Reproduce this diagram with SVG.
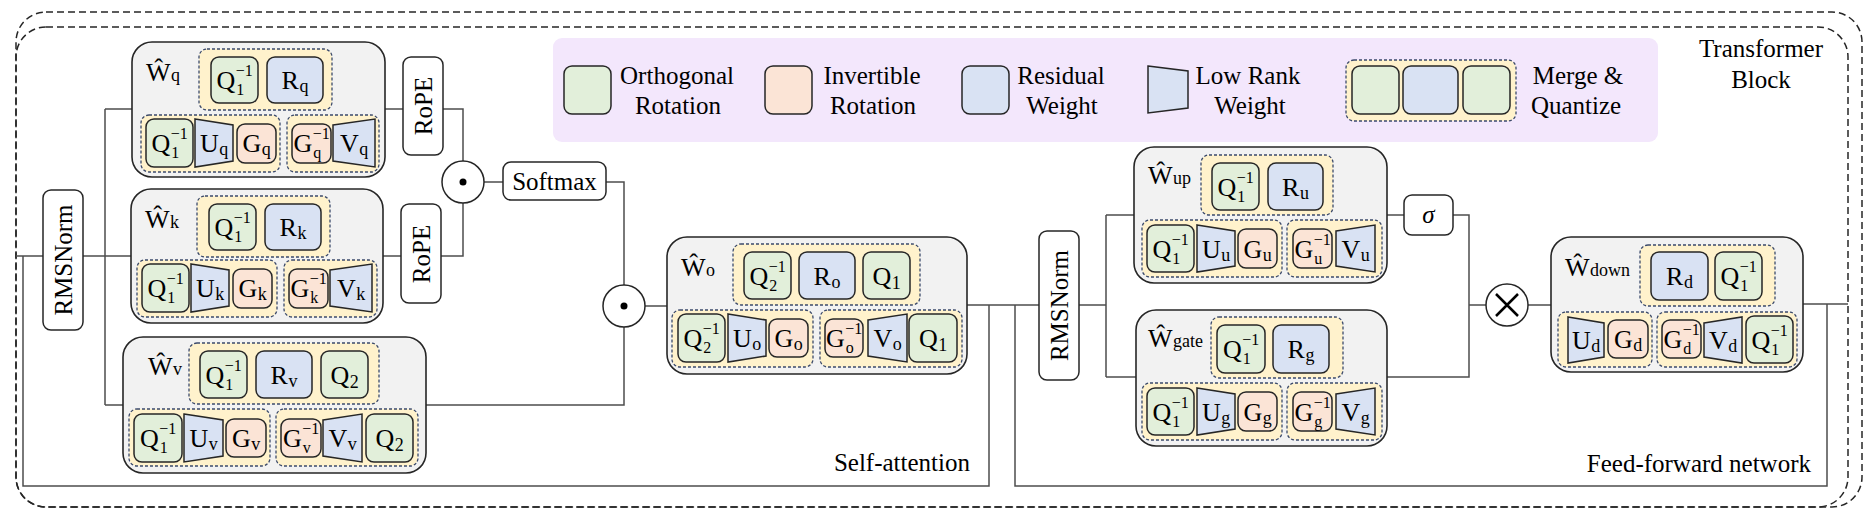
<svg xmlns="http://www.w3.org/2000/svg" width="1874" height="519" viewBox="0 0 1874 519">
<style>
.w{fill:#f2f2f2;stroke:#262626;stroke-width:1.6}
.y{fill:#fff2cc;stroke:#3b4a6b;stroke-width:1.3;stroke-dasharray:3 2}
.g{fill:#e2efda;stroke:#262626;stroke-width:1.5}
.o{fill:#fbe4d6;stroke:#262626;stroke-width:1.5}
.b{fill:#d9e2f3;stroke:#262626;stroke-width:1.5}
.op{fill:#fff;stroke:#262626;stroke-width:1.5}
.c{fill:none;stroke:#4d4d4d;stroke-width:1.5}
.f{fill:none;stroke:#262626;stroke-width:1.5;stroke-dasharray:7 4}
.m{font-family:"Liberation Serif","Times New Roman",serif;font-size:26px;fill:#000}
.s{font-size:18px}
.s2{font-size:16px}
.t{font-family:"Liberation Serif","Times New Roman",serif;font-size:25px;fill:#000;text-anchor:middle}
.r{font-family:"Liberation Serif","Times New Roman",serif;font-size:25px;fill:#000}
</style>
<g id="frame">
<rect class="f" x="16" y="12" width="1846" height="495" rx="30"/>
<rect class="f" x="16" y="27" width="1832" height="480" rx="30"/>
<text class="t" x="1761" y="57">Transformer</text>
<text class="t" x="1761" y="88">Block</text>
<text class="r" x="970" y="471" text-anchor="end">Self-attention</text>
<text class="r" x="1811" y="472" text-anchor="end">Feed-forward network</text>
</g>
<g id="legend">
<rect x="553" y="38" width="1105" height="104" rx="9" fill="#f3e7fc"/>
<rect class="g" x="564" y="66" width="47" height="48" rx="8"/>
<text class="t" x="677" y="84">Orthogonal</text><text class="t" x="678" y="114">Rotation</text>
<rect class="o" x="765" y="66" width="47" height="48" rx="8"/>
<text class="t" x="872" y="84">Invertible</text><text class="t" x="873" y="114">Rotation</text>
<rect class="b" x="962" y="66" width="47" height="48" rx="8"/>
<text class="t" x="1061" y="84">Residual</text><text class="t" x="1062" y="114">Weight</text>
<polygon class="b" points="1148,66 1188,71 1188,108 1148,113"/>
<text class="t" x="1248" y="84">Low Rank</text><text class="t" x="1250" y="114">Weight</text>
<rect class="y" x="1346" y="60" width="170" height="61" rx="8"/>
<rect class="g" x="1352" y="66" width="47" height="48" rx="8"/>
<rect class="b" x="1403" y="66" width="55" height="48" rx="8"/>
<rect class="g" x="1463" y="66" width="47" height="48" rx="8"/>
<text class="t" x="1578" y="84">Merge &amp;</text><text class="t" x="1576" y="114">Quantize</text>
</g>
<g id="connectors">
<path class="c" d="M16,256 H43 M23,256 V486 H989 V305 M83,256 H131 M105,109 V405 M105,109 H132 M105,405 H123"/>
<path class="c" d="M385,109 H403 M443,109 H463 V161 M382,256 H401 M441,256 H463 V203 M484,182 H503 M606,182 H624 V285 M426,405 H624 V327 M645,306 H667"/>
<path class="c" d="M967,305 H1039 M1015,305 V486 H1827 V304 M1079,305 H1106 M1106,215 V377 M1106,215 H1134 M1106,377 H1136"/>
<path class="c" d="M1387,215 H1404 M1453,215 H1469 V305 M1387,377 H1469 V305 M1469,305 H1486 M1528,305 H1551 M1803,304 H1848"/>
</g>
<g id="RMSNorm1"><rect class="op" x="43" y="190" width="40" height="140" rx="8"/><text class="t" transform="translate(72,260) rotate(-90)">RMSNorm</text></g>
<g id="RoPE1"><rect class="op" x="403" y="57" width="40" height="98" rx="8"/><text class="t" transform="translate(432,106) rotate(-90)">RoPE</text></g>
<g id="RoPE2"><rect class="op" x="401" y="204" width="40" height="99" rx="8"/><text class="t" transform="translate(430,254) rotate(-90)">RoPE</text></g>
<g id="dot1"><circle class="op" cx="463" cy="182" r="21"/><circle cx="463" cy="182" r="3.5" fill="#000"/></g>
<g id="Softmax"><rect class="op" x="503" y="162" width="103" height="38" rx="8"/><text class="t" x="554.5" y="190">Softmax</text></g>
<g id="dot2"><circle class="op" cx="624" cy="306" r="21"/><circle cx="624" cy="306" r="3.5" fill="#000"/></g>
<g id="RMSNorm2"><rect class="op" x="1039" y="231" width="40" height="149" rx="8"/><text class="t" transform="translate(1068,305.5) rotate(-90)">RMSNorm</text></g>
<g id="sigma"><rect class="op" x="1404" y="195" width="49" height="40" rx="8"/><text class="t" x="1428.5" y="223" font-style="italic">σ</text></g>
<g id="mul"><circle class="op" cx="1507" cy="305" r="21"/><path d="M1496,294 L1518,316 M1518,294 L1496,316" stroke="#000" stroke-width="2.5"/></g>

<g id="Wq" transform="translate(132,42)">
<rect class="w" width="253" height="135" rx="20"/>
<text class="m"><tspan x="14" y="39">Ŵ</tspan><tspan class="s" x="39" y="39">q</tspan></text>
<rect class="y" x="67" y="7" width="133" height="61" rx="8"/>
<rect class="g" x="79" y="15" width="47" height="46" rx="8"/>
<text class="m"><tspan x="84.4" y="47">Q</tspan><tspan class="s2" x="103.7" y="34">−1</tspan><tspan class="s2" x="104.2" y="53">1</tspan></text>
<rect class="b" x="135" y="15" width="56" height="46" rx="8"/>
<text class="m"><tspan x="149.6" y="47">R</tspan><tspan class="s" x="167.5" y="50">q</tspan></text>
<rect class="y" x="9" y="73" width="139" height="57" rx="8"/>
<rect class="g" x="14" y="77" width="47" height="48" rx="8"/>
<text class="m"><tspan x="19.4" y="110">Q</tspan><tspan class="s2" x="38.7" y="97">−1</tspan><tspan class="s2" x="39.2" y="116">1</tspan></text>
<polygon class="b" points="63,77 101,83 101,119 63,125"/>
<text class="m"><tspan x="67.9" y="110">U</tspan><tspan class="s" x="87.2" y="113">q</tspan></text>
<rect class="o" x="105" y="82" width="39" height="39" rx="8"/>
<text class="m"><tspan x="110.4" y="110">G</tspan><tspan class="s" x="129.7" y="113">q</tspan></text>
<rect class="y" x="155" y="73" width="92" height="57" rx="8"/>
<rect class="o" x="160" y="82" width="39" height="39" rx="8"/>
<text class="m"><tspan x="161.4" y="110">G</tspan><tspan class="s2" x="180.7" y="97">−1</tspan><tspan class="s2" x="181.2" y="116">q</tspan></text>
<polygon class="b" points="201,83 243,77 243,125 201,119"/>
<text class="m"><tspan x="207.9" y="110">V</tspan><tspan class="s" x="227.2" y="113">q</tspan></text>
</g>

<g id="Wk" transform="translate(131,189)">
<rect class="w" width="252" height="134" rx="20"/>
<text class="m"><tspan x="14" y="39">Ŵ</tspan><tspan class="s" x="39" y="39">k</tspan></text>
<rect class="y" x="66" y="7" width="133" height="61" rx="8"/>
<rect class="g" x="78" y="15" width="47" height="46" rx="8"/>
<text class="m"><tspan x="83.4" y="47">Q</tspan><tspan class="s2" x="102.7" y="34">−1</tspan><tspan class="s2" x="103.2" y="53">1</tspan></text>
<rect class="b" x="134" y="15" width="56" height="46" rx="8"/>
<text class="m"><tspan x="148.6" y="47">R</tspan><tspan class="s" x="166.5" y="50">k</tspan></text>
<rect class="y" x="6" y="71" width="140" height="57" rx="8"/>
<rect class="g" x="11" y="75" width="47" height="48" rx="8"/>
<text class="m"><tspan x="16.4" y="108">Q</tspan><tspan class="s2" x="35.7" y="95">−1</tspan><tspan class="s2" x="36.2" y="114">1</tspan></text>
<polygon class="b" points="60,75 98,81 98,117 60,123"/>
<text class="m"><tspan x="64.9" y="108">U</tspan><tspan class="s" x="84.2" y="111">k</tspan></text>
<rect class="o" x="102" y="80" width="39" height="39" rx="8"/>
<text class="m"><tspan x="107.4" y="108">G</tspan><tspan class="s" x="126.7" y="111">k</tspan></text>
<rect class="y" x="153" y="71" width="93" height="57" rx="8"/>
<rect class="o" x="158" y="80" width="39" height="39" rx="8"/>
<text class="m"><tspan x="159.4" y="108">G</tspan><tspan class="s2" x="178.7" y="95">−1</tspan><tspan class="s2" x="179.2" y="114">k</tspan></text>
<polygon class="b" points="199,81 241,75 241,123 199,117"/>
<text class="m"><tspan x="205.9" y="108">V</tspan><tspan class="s" x="225.2" y="111">k</tspan></text>
</g>

<g id="Wv" transform="translate(123,337)">
<rect class="w" width="303" height="136" rx="20"/>
<text class="m"><tspan x="25" y="38">Ŵ</tspan><tspan class="s" x="50" y="38">v</tspan></text>
<rect class="y" x="66" y="6" width="190" height="61" rx="8"/>
<rect class="g" x="77" y="14" width="47" height="47" rx="8"/>
<text class="m"><tspan x="82.4" y="46.5">Q</tspan><tspan class="s2" x="101.7" y="33.5">−1</tspan><tspan class="s2" x="102.2" y="52.5">1</tspan></text>
<rect class="b" x="133" y="14" width="56" height="47" rx="8"/>
<text class="m"><tspan x="147.6" y="46.5">R</tspan><tspan class="s" x="165.5" y="49.5">v</tspan></text>
<rect class="g" x="198" y="14" width="47" height="47" rx="8"/>
<text class="m"><tspan x="207.4" y="46.5">Q</tspan><tspan class="s" x="226.7" y="50.5">2</tspan></text>
<rect class="y" x="6" y="72" width="141" height="57" rx="8"/>
<rect class="g" x="11" y="77" width="48" height="48" rx="8"/>
<text class="m"><tspan x="16.9" y="110">Q</tspan><tspan class="s2" x="36.2" y="97">−1</tspan><tspan class="s2" x="36.7" y="116">1</tspan></text>
<polygon class="b" points="61,77 100,83 100,119 61,125"/>
<text class="m"><tspan x="66.4" y="110">U</tspan><tspan class="s" x="85.7" y="113">v</tspan></text>
<rect class="o" x="103" y="82" width="40" height="38" rx="8"/>
<text class="m"><tspan x="108.9" y="110">G</tspan><tspan class="s" x="128.2" y="113">v</tspan></text>
<rect class="y" x="153" y="72" width="142" height="57" rx="8"/>
<rect class="o" x="158" y="82" width="40" height="38" rx="8"/>
<text class="m"><tspan x="159.9" y="110">G</tspan><tspan class="s2" x="179.2" y="97">−1</tspan><tspan class="s2" x="179.7" y="116">v</tspan></text>
<polygon class="b" points="200,83 239,77 239,125 200,119"/>
<text class="m"><tspan x="205.4" y="110">V</tspan><tspan class="s" x="224.7" y="113">v</tspan></text>
<rect class="g" x="243" y="77" width="47" height="48" rx="8"/>
<text class="m"><tspan x="252.4" y="110">Q</tspan><tspan class="s" x="271.7" y="114">2</tspan></text>
</g>

<g id="Wo" transform="translate(667,237)">
<rect class="w" width="300" height="137" rx="20"/>
<text class="m"><tspan x="14" y="39">Ŵ</tspan><tspan class="s" x="39" y="39">o</tspan></text>
<rect class="y" x="66" y="7" width="187" height="61" rx="8"/>
<rect class="g" x="77" y="15" width="47" height="47" rx="8"/>
<text class="m"><tspan x="82.4" y="47.5">Q</tspan><tspan class="s2" x="101.7" y="34.5">−1</tspan><tspan class="s2" x="102.2" y="53.5">2</tspan></text>
<rect class="b" x="132" y="15" width="56" height="47" rx="8"/>
<text class="m"><tspan x="146.6" y="47.5">R</tspan><tspan class="s" x="164.5" y="50.5">o</tspan></text>
<rect class="g" x="196" y="15" width="47" height="47" rx="8"/>
<text class="m"><tspan x="205.4" y="47.5">Q</tspan><tspan class="s" x="224.7" y="51.5">1</tspan></text>
<rect class="y" x="5" y="73" width="141" height="57" rx="8"/>
<rect class="g" x="11" y="77" width="47" height="48" rx="8"/>
<text class="m"><tspan x="16.4" y="110">Q</tspan><tspan class="s2" x="35.7" y="97">−1</tspan><tspan class="s2" x="36.2" y="116">2</tspan></text>
<polygon class="b" points="61,77 99,83 99,119 61,125"/>
<text class="m"><tspan x="65.9" y="110">U</tspan><tspan class="s" x="85.2" y="113">o</tspan></text>
<rect class="o" x="102" y="82" width="39" height="38" rx="8"/>
<text class="m"><tspan x="107.4" y="110">G</tspan><tspan class="s" x="126.7" y="113">o</tspan></text>
<rect class="y" x="153" y="73" width="142" height="57" rx="8"/>
<rect class="o" x="158" y="82" width="38" height="38" rx="8"/>
<text class="m"><tspan x="158.9" y="110">G</tspan><tspan class="s2" x="178.2" y="97">−1</tspan><tspan class="s2" x="178.7" y="116">o</tspan></text>
<polygon class="b" points="201,83 240,77 240,125 201,119"/>
<text class="m"><tspan x="206.4" y="110">V</tspan><tspan class="s" x="225.7" y="113">o</tspan></text>
<rect class="g" x="242" y="77" width="48" height="48" rx="8"/>
<text class="m"><tspan x="251.9" y="110">Q</tspan><tspan class="s" x="271.2" y="114">1</tspan></text>
</g>

<g id="Wup" transform="translate(1134,147)">
<rect class="w" width="253" height="136" rx="20"/>
<text class="m"><tspan x="14" y="37">Ŵ</tspan><tspan class="s" x="39" y="37">up</tspan></text>
<rect class="y" x="67" y="8" width="132" height="60" rx="8"/>
<rect class="g" x="78" y="16" width="47" height="47" rx="8"/>
<text class="m"><tspan x="83.4" y="48.5">Q</tspan><tspan class="s2" x="102.7" y="35.5">−1</tspan><tspan class="s2" x="103.2" y="54.5">1</tspan></text>
<rect class="b" x="134" y="16" width="55" height="47" rx="8"/>
<text class="m"><tspan x="148.1" y="48.5">R</tspan><tspan class="s" x="166" y="51.5">u</tspan></text>
<rect class="y" x="8" y="73" width="140" height="57" rx="8"/>
<rect class="g" x="13" y="78" width="47" height="47" rx="8"/>
<text class="m"><tspan x="18.4" y="110.5">Q</tspan><tspan class="s2" x="37.7" y="97.5">−1</tspan><tspan class="s2" x="38.2" y="116.5">1</tspan></text>
<polygon class="b" points="63,78 101,84 101,119 63,125"/>
<text class="m"><tspan x="67.9" y="110.5">U</tspan><tspan class="s" x="87.2" y="113.5">u</tspan></text>
<rect class="o" x="104" y="82" width="39" height="39" rx="8"/>
<text class="m"><tspan x="109.4" y="110.5">G</tspan><tspan class="s" x="128.7" y="113.5">u</tspan></text>
<rect class="y" x="153" y="73" width="95" height="57" rx="8"/>
<rect class="o" x="159" y="82" width="39" height="39" rx="8"/>
<text class="m"><tspan x="160.4" y="110.5">G</tspan><tspan class="s2" x="179.7" y="97.5">−1</tspan><tspan class="s2" x="180.2" y="116.5">u</tspan></text>
<polygon class="b" points="202,84 241,78 241,125 202,119"/>
<text class="m"><tspan x="207.4" y="110.5">V</tspan><tspan class="s" x="226.7" y="113.5">u</tspan></text>
</g>

<g id="Wgate" transform="translate(1136,310)">
<rect class="w" width="251" height="136" rx="20"/>
<text class="m"><tspan x="12" y="37">Ŵ</tspan><tspan class="s" x="37" y="37">gate</tspan></text>
<rect class="y" x="75" y="7" width="132" height="61" rx="8"/>
<rect class="g" x="81" y="15" width="48" height="48" rx="8"/>
<text class="m"><tspan x="86.9" y="48">Q</tspan><tspan class="s2" x="106.2" y="35">−1</tspan><tspan class="s2" x="106.7" y="54">1</tspan></text>
<rect class="b" x="137" y="15" width="56" height="48" rx="8"/>
<text class="m"><tspan x="151.6" y="48">R</tspan><tspan class="s" x="169.5" y="51">g</tspan></text>
<rect class="y" x="6" y="73" width="140" height="57" rx="8"/>
<rect class="g" x="11" y="78" width="47" height="47" rx="8"/>
<text class="m"><tspan x="16.4" y="110.5">Q</tspan><tspan class="s2" x="35.7" y="97.5">−1</tspan><tspan class="s2" x="36.2" y="116.5">1</tspan></text>
<polygon class="b" points="61,78 99,84 99,119 61,125"/>
<text class="m"><tspan x="65.9" y="110.5">U</tspan><tspan class="s" x="85.2" y="113.5">g</tspan></text>
<rect class="o" x="102" y="82" width="39" height="39" rx="8"/>
<text class="m"><tspan x="107.4" y="110.5">G</tspan><tspan class="s" x="126.7" y="113.5">g</tspan></text>
<rect class="y" x="151" y="73" width="95" height="57" rx="8"/>
<rect class="o" x="157" y="82" width="39" height="39" rx="8"/>
<text class="m"><tspan x="158.4" y="110.5">G</tspan><tspan class="s2" x="177.7" y="97.5">−1</tspan><tspan class="s2" x="178.2" y="116.5">g</tspan></text>
<polygon class="b" points="200,84 239,78 239,125 200,119"/>
<text class="m"><tspan x="205.4" y="110.5">V</tspan><tspan class="s" x="224.7" y="113.5">g</tspan></text>
</g>

<g id="Wdown" transform="translate(1551,237)">
<rect class="w" width="252" height="135" rx="20"/>
<text class="m"><tspan x="14" y="39">Ŵ</tspan><tspan class="s" x="39" y="39">down</tspan></text>
<rect class="y" x="89" y="8" width="135" height="61" rx="8"/>
<rect class="b" x="100" y="15" width="57" height="48" rx="8"/>
<text class="m"><tspan x="115.1" y="48">R</tspan><tspan class="s" x="133" y="51">d</tspan></text>
<rect class="g" x="164" y="15" width="47" height="48" rx="8"/>
<text class="m"><tspan x="169.4" y="48">Q</tspan><tspan class="s2" x="188.7" y="35">−1</tspan><tspan class="s2" x="189.2" y="54">1</tspan></text>
<rect class="y" x="7" y="75" width="94" height="55" rx="8"/>
<polygon class="b" points="17,80 53,86 53,120 17,126"/>
<text class="m"><tspan x="20.9" y="112">U</tspan><tspan class="s" x="40.2" y="115">d</tspan></text>
<rect class="o" x="57" y="83" width="40" height="38" rx="8"/>
<text class="m"><tspan x="62.9" y="111">G</tspan><tspan class="s" x="82.2" y="114">d</tspan></text>
<rect class="y" x="106" y="75" width="140" height="55" rx="8"/>
<rect class="o" x="111" y="83" width="39" height="38" rx="8"/>
<text class="m"><tspan x="112.4" y="111">G</tspan><tspan class="s2" x="131.7" y="98">−1</tspan><tspan class="s2" x="132.2" y="117">d</tspan></text>
<polygon class="b" points="153,86 191,80 191,126 153,120"/>
<text class="m"><tspan x="157.9" y="112">V</tspan><tspan class="s" x="177.2" y="115">d</tspan></text>
<rect class="g" x="195" y="79" width="47" height="47" rx="8"/>
<text class="m"><tspan x="200.4" y="111.5">Q</tspan><tspan class="s2" x="219.7" y="98.5">−1</tspan><tspan class="s2" x="220.2" y="117.5">1</tspan></text>
</g>
</svg>
